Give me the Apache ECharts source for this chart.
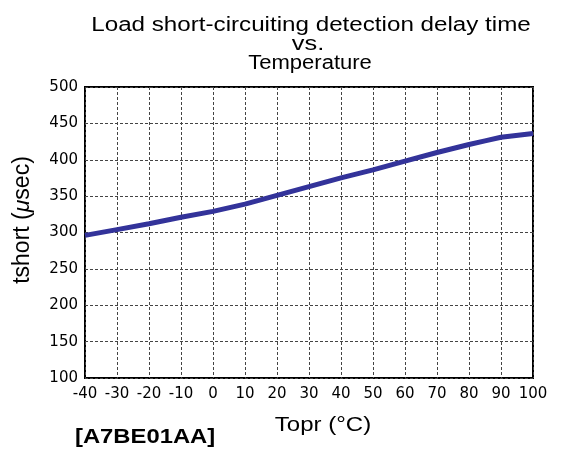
<!DOCTYPE html>
<html>
<head>
<meta charset="utf-8">
<script src="https://cdn.jsdelivr.net/npm/echarts@6/dist/echarts.min.js"></script>
<style>
  html, body { margin: 0; padding: 0; background: #fff; }
  #chart { width: 563px; height: 453px; }
</style>
</head>
<body>
<div id="chart"></div>
<script>
// temperature (°C) vs tshort (µsec)
const temps = [-40, -30, -20, -10, 0, 10, 20, 30, 40, 50, 60, 70, 80, 85, 90, 100];
const tshort = [296, 304, 312, 321, 329, 339, 351, 363, 375, 386, 398, 410, 421, 426, 431, 436];

const titleLines = ['Load short-circuiting detection delay time', 'vs.', 'Temperature'];
const xName = 'Topr (°C)';
const code = '[A7BE01AA]';

const font = 'Liberation Sans, Arial, sans-serif';
const tickFont = 'DejaVu Sans, sans-serif';

// the reference text is drawn wide, so stretch it a little
function wideText(text, x, y, size, sx) {
  return {
    type: 'text', x: x, y: y, scaleX: sx,
    style: { text: text, fontFamily: font, fontSize: size, fill: '#000', align: 'center', verticalAlign: 'middle' }
  };
}

const chart = echarts.init(document.getElementById('chart'));
chart.setOption({
  animation: false,
  grid: {
    left: 85, right: 30, top: 87, bottom: 75,
    show: true, borderColor: '#000', borderWidth: 2, backgroundColor: 'transparent'
  },
  xAxis: {
    type: 'value',
    min: -40, max: 100, interval: 10,
    axisLine: { show: false },
    axisTick: { show: false },
    axisLabel: { fontFamily: tickFont, fontSize: 15, color: '#000', margin: 9 },
    splitLine: { show: true, lineStyle: { color: '#444', width: 1, type: [3, 2] } }
  },
  yAxis: {
    type: 'value',
    min: 100, max: 500, interval: 50,
    axisLine: { show: false },
    axisTick: { show: false },
    axisLabel: { fontFamily: tickFont, fontSize: 15, color: '#000', margin: 7 },
    splitLine: { show: true, lineStyle: { color: '#444', width: 1, type: [3, 2] } }
  },
  graphic: [
    wideText(titleLines[0], 311, 26, 19.5, 1.24),
    wideText(titleLines[1], 308, 45, 19.5, 1.3),
    wideText(titleLines[2], 310, 64, 19.5, 1.13),
    wideText(xName, 323, 425, 20, 1.2),
    {
      type: 'text', x: 23, y: 220, rotation: Math.PI / 2,
      style: {
        text: '{n|tshort (}{i|μ}{n|sec)}',
        align: 'center', verticalAlign: 'middle',
        rich: {
          n: { fontFamily: font, fontSize: 23, fill: '#000' },
          i: { fontFamily: font, fontSize: 23, fontStyle: 'italic', fill: '#000' }
        }
      }
    },
    {
      type: 'text', x: 75, y: 437, scaleX: 1.19,
      style: { text: code, fontFamily: font, fontSize: 20, fontWeight: 'bold', fill: '#000', align: 'left', verticalAlign: 'middle' }
    }
  ],
  series: [{
    type: 'line',
    data: temps.map((t, i) => [t, tshort[i]]),
    showSymbol: false,
    lineStyle: { color: '#33339a', width: 5 },
    z: 3
  }]
});
</script>
</body>
</html>
